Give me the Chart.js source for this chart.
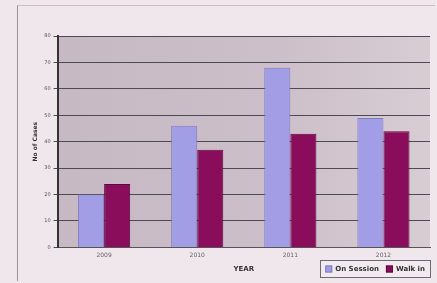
<!DOCTYPE html>
<html>
<head>
<meta charset="utf-8">
<script src="https://cdn.jsdelivr.net/npm/chart.js@4"></script>
<style>
  html, body { margin: 0; padding: 0; background: #efe7eb; overflow: hidden; }
  #wrap { position: absolute; left: 17px; top: 5px; width: 418px; height: 276px;
          border-left: 1px solid #9a9298; border-top: 1px solid #c9bfc5; box-sizing: border-box; }
  canvas { display: block; }
</style>
</head>
<body>
<div id="wrap"><canvas id="chart" width="416" height="275"></canvas></div>
<script>
const years = ['2009', '2010', '2011', '2012'];
const onSession = [20, 46, 68, 49];
const walkIn = [24, 37, 43, 44];
const yTicks = [0, 10, 20, 30, 40, 50, 60, 70, 80];

// grey plot background, a bit lighter toward the right
const plotBg = {
  id: 'plotBg',
  beforeDraw(chart) {
    const { ctx, chartArea: a } = chart;
    const g = ctx.createLinearGradient(a.left, 0, a.right, 0);
    g.addColorStop(0, '#c6b9c4');
    g.addColorStop(0.6, '#cdbfc9');
    g.addColorStop(1, '#d8cdd3');
    ctx.save();
    ctx.fillStyle = g;
    ctx.fillRect(a.left, a.top, a.right - a.left, a.bottom - a.top);
    ctx.restore();
  },
};

// boxed legend in the bottom right corner, beside the axis title
const boxedLegend = {
  id: 'boxedLegend',
  afterDraw(chart) {
    const { ctx, chartArea: a } = chart;
    ctx.save();
    ctx.font = 'bold 7px "DejaVu Sans"';
    const items = chart.data.datasets.map((ds) => ({ text: ds.label, fill: ds.backgroundColor, stroke: ds.borderColor }));
    const sw = 7, gap = 3, itemGap = 7, padX = 5;
    const widths = items.map((it) => sw + gap + ctx.measureText(it.text).width);
    const total = widths.reduce((s, w) => s + w, 0) + itemGap * (items.length - 1) + padX * 2;
    const left = a.right - total;
    const top = Math.round(a.bottom) + 13, h = 17;
    ctx.fillStyle = '#f1eaee';
    ctx.fillRect(left, top, total, h);
    ctx.strokeStyle = '#6d6a70';
    ctx.lineWidth = 1;
    ctx.strokeRect(Math.round(left) + 0.5, top + 0.5, Math.round(total), h);
    let x = left + padX;
    const cy = top + h / 2 + 0.5;
    items.forEach((it, i) => {
      ctx.fillStyle = it.fill;
      ctx.fillRect(x, cy - sw / 2, sw, sw);
      ctx.strokeStyle = it.stroke;
      ctx.strokeRect(x + 0.5, cy - sw / 2 + 0.5, sw - 1, sw - 1);
      ctx.fillStyle = '#333';
      ctx.textBaseline = 'middle';
      ctx.fillText(it.text, x + sw + gap, cy);
      x += widths[i] + itemGap;
    });
    ctx.restore();
  },
};

new Chart(document.getElementById('chart'), {
  type: 'bar',
  data: {
    labels: years,
    datasets: [
      { label: 'On Session', data: onSession, backgroundColor: '#a19ee6', borderColor: '#7f7cc4', borderWidth: 1 },
      { label: 'Walk in', data: walkIn, backgroundColor: '#8a0d5c', borderColor: '#5e0740', borderWidth: 1 },
    ],
  },
  options: {
    responsive: false,
    animation: false,
    devicePixelRatio: 1,
    layout: { padding: { left: 12, right: 4, top: 30, bottom: 8 } },
    datasets: { bar: { categoryPercentage: 0.56, barPercentage: 1 } },
    plugins: {
      legend: { display: false },
      tooltip: { enabled: false },
    },
    scales: {
      x: {
        grid: { display: false, tickLength: 2 },
        border: { color: '#555' },
        ticks: { color: '#666', padding: 2, font: { family: 'DejaVu Sans', size: 6 } },
        title: { display: true, text: 'YEAR', color: '#333', padding: { top: 4, bottom: 0 }, font: { family: 'DejaVu Sans', size: 7, weight: 'bold' } },
      },
      y: {
        min: 0,
        max: 80,
        afterBuildTicks: (axis) => { axis.ticks = yTicks.map((v) => ({ value: v })); },
        grid: { color: '#4e4a52', lineWidth: 1, tickLength: 4 },
        border: { color: '#333', width: 2 },
        ticks: { color: '#555', padding: 3, autoSkip: false, font: { family: 'DejaVu Sans', size: 5 } },
        title: { display: true, text: 'No of Cases', color: '#333', padding: 2, font: { family: 'DejaVu Sans', size: 6, weight: 'bold' } },
      },
    },
  },
  plugins: [plotBg, boxedLegend],
});
</script>
</body>
</html>
